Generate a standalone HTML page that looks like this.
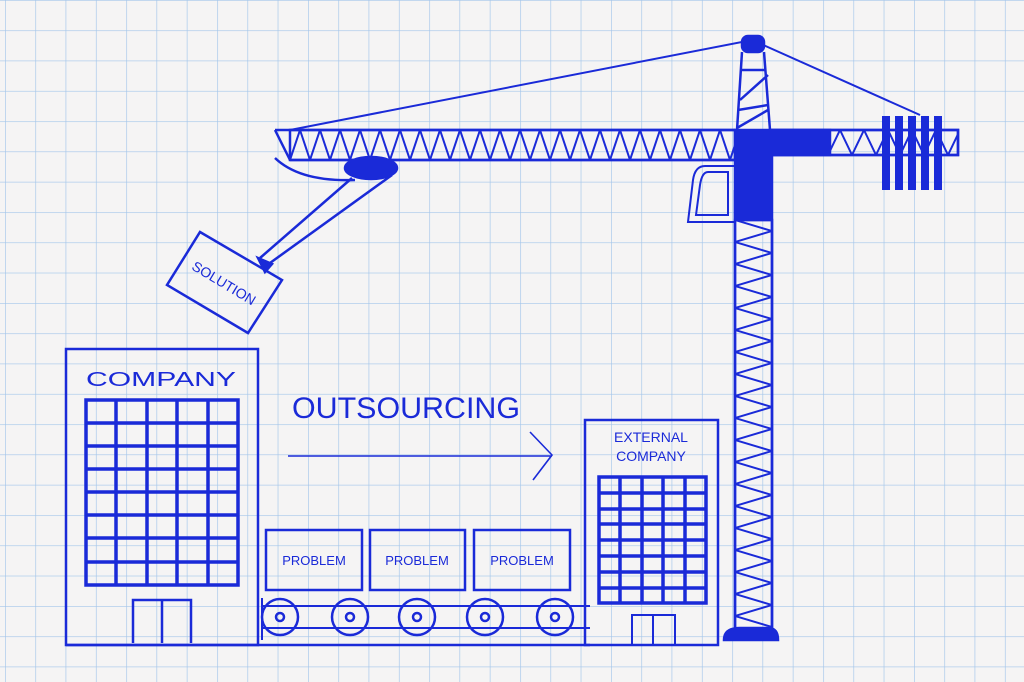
<!DOCTYPE html>
<html><head><meta charset="utf-8"><style>
html,body{margin:0;padding:0;background:#f5f4f4;}
svg{display:block}
text{font-family:"Liberation Sans",sans-serif;fill:#1a2ad8}
</style></head><body>
<svg width="1024" height="682" viewBox="0 0 1024 682" xmlns="http://www.w3.org/2000/svg">
<defs>
<pattern id="grid" x="5" y="0" width="30.3" height="30.3" patternUnits="userSpaceOnUse">
<path d="M0 0V30.3M0 0H30.3" stroke="#a3c5ea" stroke-width="1.3" fill="none"/>
</pattern>
<pattern id="jz" x="0" y="130" width="20" height="30" patternUnits="userSpaceOnUse">
<path d="M0 0L10 30L20 0" stroke="#1a2ad8" stroke-width="2" fill="none"/>
</pattern>
<pattern id="cz" x="0" y="130" width="24" height="25" patternUnits="userSpaceOnUse">
<path d="M0 0L12 25L24 0" stroke="#1a2ad8" stroke-width="2" fill="none"/>
</pattern>
<pattern id="mz" x="735" y="0" width="37" height="22" patternUnits="userSpaceOnUse">
<path d="M0 0L37 11L0 22" stroke="#1a2ad8" stroke-width="2" fill="none"/>
</pattern>
</defs>
<rect width="1024" height="682" fill="#f5f4f4"/>
<rect width="1024" height="682" fill="url(#grid)"/>
<g stroke="#1a2ad8" fill="none" stroke-width="2.5">
<path d="M290 130L752 40L920 115" stroke-width="2"/>
<rect x="290" y="130" width="445" height="30" fill="url(#jz)"/>
<path d="M275 130H735M290 160H735M275 130L290 160"/>
<rect x="770" y="130" width="188" height="25" fill="url(#cz)"/>
<path d="M770 130H958V155H770"/>
<path d="M742 52L737 130M764 52L770 130M740 70H766M740 100L768 75M738 110L768 105M737 128L768 110"/>
<rect x="742" y="36" width="22" height="16" rx="6" fill="#1a2ad8"/>
<rect x="735" y="220" width="37" height="410" fill="url(#mz)"/>
<path d="M735 190V630M772 155V630"/>
<path d="M724 640Q724 628 740 628H768Q778 628 778 640Z" fill="#1a2ad8"/>
<path d="M735 130H830V155H770V220H735Z" fill="#1a2ad8"/>
<g fill="#1a2ad8" stroke="none">
<rect x="882" y="116" width="8" height="74"/><rect x="895" y="116" width="8" height="74"/><rect x="908" y="116" width="8" height="74"/><rect x="921" y="116" width="8" height="74"/><rect x="934" y="116" width="8" height="74"/>
</g>
<path d="M735 166H705Q695 166 693 180L688 222H735" stroke-width="2"/>
<path d="M728 172H708Q702 172 700 185L696 215H728Z" stroke-width="2"/>
<path d="M275 158Q300 182 355 180"/>
<ellipse cx="371" cy="168" rx="26" ry="11" fill="#1a2ad8"/>
<path d="M352 178L260 258M392 175L270 263"/>
<path d="M258 258L272 264L265 272Z" fill="#1a2ad8"/>
<path d="M200 232L282 280L248 333L167 285Z"/>
<rect x="66" y="349" width="192" height="296"/>
<path d="M86 400H238V585H86Z M86 423H238M86 446H238M86 469H238M86 492H238M86 515H238M86 538H238M86 562H238 M116 400V585M147 400V585M177 400V585M208 400V585" stroke-width="3.5"/>
<path d="M133 643V600H191V643M162 600V643"/>
<path d="M288 456H552M530 432L552 455L533 480" stroke-width="1.6"/>
<rect x="266" y="530" width="96" height="60"/>
<rect x="370" y="530" width="95" height="60"/>
<rect x="474" y="530" width="96" height="60"/>
<path d="M262 606H590M262 628H590M262 598V640" stroke-width="2"/>
<g>
<circle cx="280" cy="617" r="18"/><circle cx="350" cy="617" r="18"/><circle cx="417" cy="617" r="18"/><circle cx="485" cy="617" r="18"/><circle cx="555" cy="617" r="18"/>
<circle cx="280" cy="617" r="4"/><circle cx="350" cy="617" r="4"/><circle cx="417" cy="617" r="4"/><circle cx="485" cy="617" r="4"/><circle cx="555" cy="617" r="4"/>
</g>
<path d="M66 645H590"/>
<rect x="585" y="420" width="133" height="225"/>
<path d="M599 477H706V603H599Z M599 493H706M599 509H706M599 524H706M599 540H706M599 556H706M599 572H706M599 588H706 M620 477V603M642 477V603M663 477V603M685 477V603" stroke-width="3.5"/>
<path d="M632 645V615H675V645M653 615V645" stroke-width="2"/>
</g>
<g>
<text x="86" y="386" font-size="20" textLength="150" lengthAdjust="spacingAndGlyphs">COMPANY</text>
<text x="292" y="418" font-size="30" textLength="228" lengthAdjust="spacingAndGlyphs">OUTSOURCING</text>
<text x="314" y="565" font-size="13" text-anchor="middle">PROBLEM</text>
<text x="417" y="565" font-size="13" text-anchor="middle">PROBLEM</text>
<text x="522" y="565" font-size="13" text-anchor="middle">PROBLEM</text>
<text x="651" y="442" font-size="14" text-anchor="middle">EXTERNAL</text>
<text x="651" y="461" font-size="14" text-anchor="middle">COMPANY</text>
<text x="224" y="288" font-size="14" text-anchor="middle" transform="rotate(31 224 283)">SOLUTION</text>
</g>
</svg>
</body></html>
